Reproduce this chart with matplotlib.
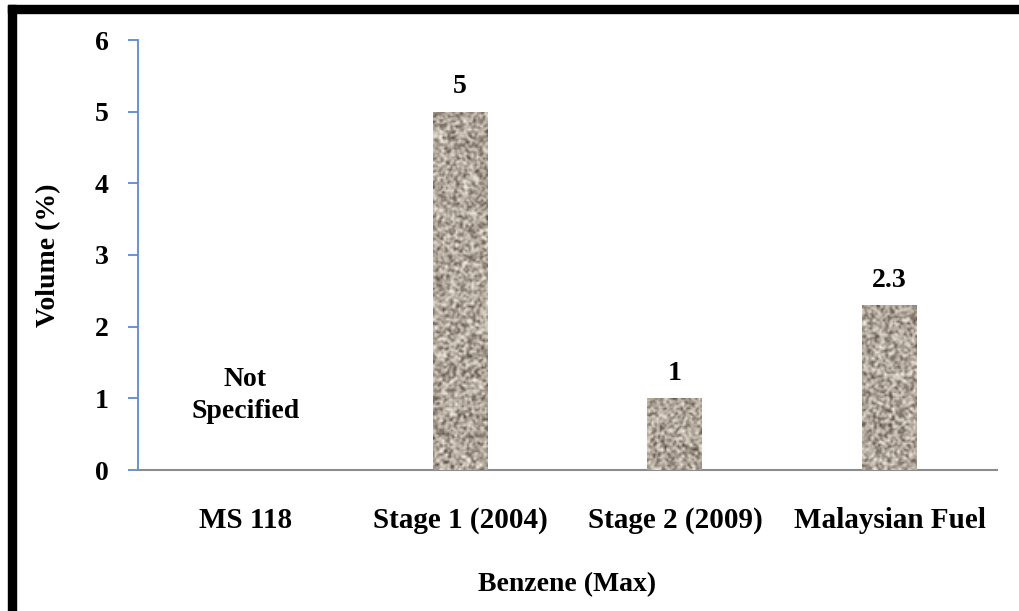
import numpy as np
import matplotlib.pyplot as plt
from matplotlib.patches import Rectangle

# benzene limits (volume %)
categories = ["MS 118", "Stage 1 (2004)", "Stage 2 (2009)", "Malaysian Fuel"]
values = [0, 5, 1, 2.3]
labels = ["", "5", "1", "2.3"]
yticks = [0, 1, 2, 3, 4, 5, 6]

plt.rcParams['font.family'] = ['Liberation Serif', 'DejaVu Serif']
plt.rcParams['font.weight'] = 'bold'
FS = 20

fig = plt.figure(figsize=(10.19, 6.11), dpi=100)
W, H = 1019, 611
ax = fig.add_axes([138 / W, 141 / H, 859 / W, 430 / H])

x = np.arange(len(categories))
bars = ax.bar(x, values, width=0.256, color="#ada397", zorder=2)

# granite-like texture inside each bar
rng = np.random.default_rng(11)
dark = np.array([0.36, 0.31, 0.28])
mid = np.array([0.70, 0.66, 0.61])
light = np.array([0.95, 0.93, 0.89])
px_per_unit = 430 / 6
for b in bars:
    if b.get_height() <= 0:
        continue
    x0, w, h = b.get_x(), b.get_width(), b.get_height()
    nr, nc = max(int(h * px_per_unit / 1.6), 4), 34
    noise = rng.random((nr + 1, nc + 1))
    sm = (noise[:-1, :-1] + noise[1:, :-1] + noise[:-1, 1:] + noise[1:, 1:]) / 4.0
    sm = (sm - sm.mean()) / sm.std()
    t = np.clip(sm, -2.6, 2.6)[..., None]
    img = np.where(t < 0, mid + (mid - dark) * t / 2.6, mid + (light - mid) * t / 2.6)
    im = ax.imshow(img, extent=[x0, x0 + w, 0, h], aspect="auto",
                   interpolation="bilinear", zorder=3)
    im.set_clip_path(b)

for xi, v, lab in zip(x, values, labels):
    if lab:
        ax.annotate(lab, (xi, v), xytext=(0, 9), textcoords="offset points",
                    ha="center", va="bottom", fontsize=FS, fontweight="bold")

ax.text(0, 1.04, "Not\nSpecified", ha="center", va="center",
        fontsize=FS, fontweight="bold", linespacing=1.35)

ax.set_xlim(-0.5, 3.5)
ax.set_ylim(0, 6)
ax.set_yticks(yticks)
ax.set_xticks(x)
ax.set_xticklabels(categories, fontsize=21, fontweight="bold")
ax.tick_params(axis="x", length=0, pad=27)
ax.tick_params(axis="y", length=7, width=1.3, color="#5b8bd0", labelsize=FS, pad=14)
for t in ax.get_yticklabels():
    t.set_fontweight("bold")

ax.spines["top"].set_visible(False)
ax.spines["right"].set_visible(False)
ax.spines["left"].set_color("#5b8bd0")
ax.spines["left"].set_linewidth(1.3)
ax.spines["bottom"].set_color("#8c8c8c")
ax.spines["bottom"].set_linewidth(1.5)

ax.set_ylabel("Volume (%)", fontsize=FS, fontweight="bold", labelpad=24)
ax.set_xlabel("Benzene (Max)", fontsize=FS, fontweight="bold", labelpad=27)

# thick black frame (only top and left visible)
fig.patches.append(Rectangle((8 / W, 0), 8 / W, (H - 5) / H, transform=fig.transFigure,
                             color="black", zorder=10))
fig.patches.append(Rectangle((8 / W, (H - 13) / H), 1, 8 / H, transform=fig.transFigure,
                             color="black", zorder=10))

fig.savefig("out.png", dpi=100)
